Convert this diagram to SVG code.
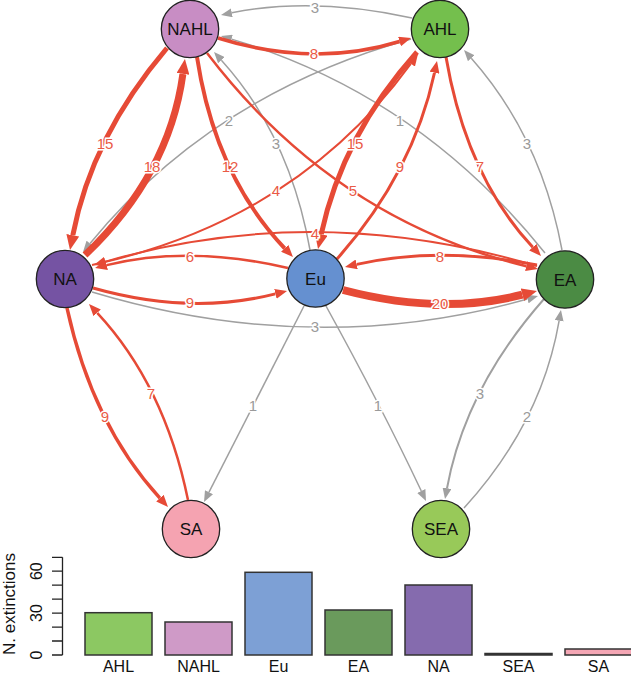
<svg xmlns="http://www.w3.org/2000/svg" width="631" height="676" viewBox="0 0 631 676">
<style>
.e{fill:none;stroke:#e64a36;}
.g{fill:none;stroke:#a0a0a0;stroke-width:1.5;marker-end:url(#ag);}
.lr{font-family:"Liberation Sans",Arial,sans-serif;font-size:15px;fill:#ea5a46;text-anchor:middle;stroke:#fff;stroke-width:3;paint-order:stroke;}
.lg{font-family:"Liberation Sans",Arial,sans-serif;font-size:15px;fill:#9a9a9a;text-anchor:middle;stroke:#fff;stroke-width:3;paint-order:stroke;}
.n{stroke:#222;stroke-width:1.3;}
.nt{font-family:"Liberation Sans",Arial,sans-serif;font-size:17px;fill:#111;text-anchor:middle;}
.bar{stroke:#333;stroke-width:1.5;}
.ax{font-family:"Liberation Sans",Arial,sans-serif;font-size:16px;fill:#111;text-anchor:middle;}
</style>
<defs>
<marker id="ar" viewBox="0 -5 12 10" refX="0" refY="0" markerWidth="12" markerHeight="10" markerUnits="userSpaceOnUse" orient="auto"><path d="M0,-5 L12,0 L0,5 z" fill="#e64a36"/></marker>
<marker id="arT" viewBox="0 -6.5 15 13" refX="0" refY="0" markerWidth="15" markerHeight="13" markerUnits="userSpaceOnUse" orient="auto"><path d="M0,-6.5 L15,0 L0,6.5 z" fill="#e64a36"/></marker>
<marker id="ag" viewBox="0 -4.5 11 9" refX="0" refY="0" markerWidth="11" markerHeight="9" markerUnits="userSpaceOnUse" orient="auto"><path d="M0,-4.5 L11,0 L0,4.5 z" fill="#a0a0a0"/></marker>
</defs>
<g id="connectors">
<path class="g" d="M412,18 Q313.5,-3.5 231.8,12.8"/>
<path class="g" d="M411,39 Q212,94.5 90,243.5"/>
<path class="g" d="M310,250 Q290,136 221.4,60.2"/>
<path class="g" d="M545,253 Q418,94.5 231.5,39.1"/>
<path class="g" d="M562,250 Q541,137 471.3,58.2"/>
<path class="g" d="M92,292 Q315,359 527.4,299"/>
<path class="g" d="M304,306 Q253,406 209,492.2"/>
<path class="g" d="M326,306 Q381.4,406.5 421.3,491"/>
<path class="g" d="M544,299 Q465.5,388 447,488.2" style="stroke-width:2"/>
<path class="g" d="M464,508 Q541.5,423 559.1,320.8"/>
<path class="e" d="M218,38 Q313.5,68 399.5,41.5" stroke-width="3.5" marker-end="url(#ar)"/>
<path class="e" d="M167,48 Q91.5,137 72.8,235.3" stroke-width="5" marker-end="url(#arT)"/>
<path class="e" d="M85,255 Q169,175 182.9,73.9" stroke-width="7" marker-end="url(#arT)"/>
<path class="e" d="M197,57 Q215,175 284.7,248.3" stroke-width="4" marker-end="url(#ar)"/>
<path class="e" d="M207,53 Q333.5,219 526.3,266.2" stroke-width="2.5" marker-end="url(#ar)"/>
<path class="e" d="M92,265 Q297,220.5 410.9,63.7" stroke-width="2" marker-end="url(#ar)"/>
<path class="e" d="M417,52 Q342.5,135.5 321.2,234.3" stroke-width="5" marker-end="url(#arT)"/>
<path class="e" d="M337,259 Q413,173 434.5,72.7" stroke-width="3" marker-end="url(#ar)"/>
<path class="e" d="M446,57 Q466.5,176.5 532.8,247.2" stroke-width="3" marker-end="url(#ar)"/>
<path class="e" d="M537,266 Q314.5,200.5 105.5,261.6" stroke-width="2" marker-end="url(#ar)"/>
<path class="e" d="M288,268 Q188.5,245 106.7,265.1" stroke-width="2.5" marker-end="url(#ar)"/>
<path class="e" d="M93,288 Q190,315.5 275.4,293.9" stroke-width="3" marker-end="url(#ar)"/>
<path class="e" d="M537,265 Q439,246 356.7,264.4" stroke-width="3" marker-end="url(#ar)"/>
<path class="e" d="M343,290 Q440,315.5 522.4,294.7" stroke-width="8" marker-end="url(#arT)"/>
<path class="e" d="M67,308 Q92.5,424.5 159.9,498.1" stroke-width="3.5" marker-end="url(#ar)"/>
<path class="e" d="M188,500 Q164.5,385 97.2,312.8" stroke-width="2.5" marker-end="url(#ar)"/>
<g id="edge-labels">
<text class="lg" x="315" y="12.5">3</text>
<text class="lg" x="229" y="125.5">2</text>
<text class="lg" x="276" y="148.5">3</text>
<text class="lg" x="400" y="125.5">1</text>
<text class="lg" x="527" y="148.5">3</text>
<text class="lg" x="315" y="331.5">3</text>
<text class="lg" x="253" y="410.5">1</text>
<text class="lg" x="378" y="410.5">1</text>
<text class="lg" x="480" y="398.5">3</text>
<text class="lg" x="527" y="421.5">2</text>
<text class="lr" x="314" y="58.5">8</text>
<text class="lr" x="105" y="148.5">15</text>
<text class="lr" x="152" y="171.5">18</text>
<text class="lr" x="230" y="171.5">12</text>
<text class="lr" x="353" y="195.5">5</text>
<text class="lr" x="276" y="195.5">4</text>
<text class="lr" x="355" y="148.5">15</text>
<text class="lr" x="400" y="171.5">9</text>
<text class="lr" x="480" y="171.5">7</text>
<text class="lr" x="315" y="238.5">4</text>
<text class="lr" x="190" y="261.5">6</text>
<text class="lr" x="190" y="307.5">9</text>
<text class="lr" x="440" y="261.5">8</text>
<text class="lr" x="440" y="308.5">20</text>
<text class="lr" x="105" y="421.5">9</text>
<text class="lr" x="151" y="398.5">7</text>
</g>
</g>
<g id="node-NAHL"><circle class="n" cx="190" cy="29" r="28.7" fill="#c88dc4"/><text class="nt" x="190" y="35">NAHL</text></g>
<g id="node-AHL"><circle class="n" cx="440" cy="29" r="28.7" fill="#74bf4d"/><text class="nt" x="440" y="35">AHL</text></g>
<g id="node-NA"><circle class="n" cx="65" cy="279" r="28.7" fill="#7553a3"/><text class="nt" x="65" y="285">NA</text></g>
<g id="node-Eu"><circle class="n" cx="315.5" cy="278.5" r="28.7" fill="#6590d0"/><text class="nt" x="315.5" y="284.5">Eu</text></g>
<g id="node-EA"><circle class="n" cx="565" cy="279.5" r="28.7" fill="#4b8b44"/><text class="nt" x="565" y="285.5">EA</text></g>
<g id="node-SA"><circle class="n" cx="191" cy="529" r="28.7" fill="#f5a3b1"/><text class="nt" x="191" y="535">SA</text></g>
<g id="node-SEA"><circle class="n" cx="441" cy="529" r="28.7" fill="#98c959"/><text class="nt" x="441" y="535">SEA</text></g>
<g id="barchart">
<path d="M62.5,557.3 V655 M52,655 H62.5 M52,641 H62.5 M52,627.1 H62.5 M52,613.1 H62.5 M52,599.2 H62.5 M52,585.2 H62.5 M52,571.2 H62.5 M52,557.3 H62.5" stroke="#222" stroke-width="1.3" fill="none"/>
<text class="ax" transform="translate(42,655) rotate(-90)">0</text>
<text class="ax" transform="translate(42,613.1) rotate(-90)">30</text>
<text class="ax" transform="translate(42,571.2) rotate(-90)">60</text>
<text class="ax" transform="translate(15,604) rotate(-90)" style="font-size:17px">N. extinctions</text>
<rect class="bar" x="85" y="612.7" width="67" height="42.3" fill="#8cc862"/>
<rect class="bar" x="165" y="622" width="67" height="33" fill="#cf9ac7"/>
<rect class="bar" x="245" y="572.3" width="67" height="82.7" fill="#7da0d5"/>
<rect class="bar" x="325" y="610" width="67" height="45" fill="#6a9a5c"/>
<rect class="bar" x="405" y="585" width="67" height="70" fill="#856bae"/>
<rect class="bar" x="485" y="653.5" width="67" height="1.5" fill="#98c959"/>
<rect class="bar" x="565" y="649" width="67" height="6" fill="#f4a6b4"/>
<text class="ax" x="118.5" y="672">AHL</text>
<text class="ax" x="198.5" y="672">NAHL</text>
<text class="ax" x="278.5" y="672">Eu</text>
<text class="ax" x="358.5" y="672">EA</text>
<text class="ax" x="438.5" y="672">NA</text>
<text class="ax" x="518.5" y="672">SEA</text>
<text class="ax" x="598.5" y="672">SA</text>
</g>
</svg>
